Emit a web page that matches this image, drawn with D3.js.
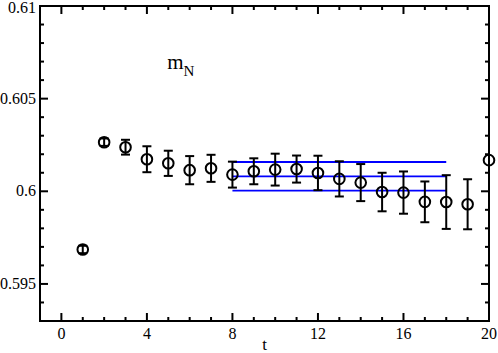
<!DOCTYPE html>
<html><head><meta charset="utf-8">
<script src="https://cdn.jsdelivr.net/npm/d3@7"></script>
<style>body{margin:0;background:#fff}</style>
</head><body>
<script>
const tValues = [1,2,3,4,5,6,7,8,9,10,11,12,13,14,15,16,17,18,19,20];
const mValues = [0.59686,0.60265,0.60238,0.60173,0.60151,0.60114,0.60124,0.6009,0.60108,0.60117,0.6012,0.60099,0.60067,0.60047,0.59996,0.59993,0.59943,0.59942,0.5993,0.60168];
const mErrors = [0.0002,0.0002,0.0004,0.0007,0.00068,0.00076,0.00073,0.0007,0.0007,0.00086,0.00073,0.00093,0.00095,0.001,0.00104,0.00114,0.0011,0.00145,0.00135,0.0];
const fitRange = [8,18];
const fitValue = 0.60081;
const fitError = 0.00077;
const xTicks = [0,4,8,12,16,20];
const yTicks = [0.595,0.6,0.605,0.61];
const yTickLabels = ["0.595","0.6","0.605","0.61"];

const W=498,H=353;
const m={l:40,r:9,t:6,b:32};
const svg=d3.select("body").append("svg").attr("width",W).attr("height",H);
const x=d3.scaleLinear().domain([-1,20]).range([m.l,W-m.r]);
const y=d3.scaleLinear().domain([0.593,0.61]).range([H-m.b,m.t]);
const font="'Liberation Serif','Times New Roman',serif";

const g=svg.append("g").attr("stroke","#000").attr("stroke-width",2);
const xMinor=d3.range(0,21,1), yMinor=d3.range(0.594,0.6095,0.001);
xMinor.forEach(v=>{
  const major=v%4===0, L=major?8:4;
  g.append("line").attr("x1",x(v)).attr("x2",x(v)).attr("y1",H-m.b).attr("y2",H-m.b-L);
  g.append("line").attr("x1",x(v)).attr("x2",x(v)).attr("y1",m.t).attr("y2",m.t+L);
});
yMinor.forEach(v=>{
  const major=Math.abs(Math.round(v*1000)%5)===0, L=major?8:4;
  g.append("line").attr("y1",y(v)).attr("y2",y(v)).attr("x1",m.l).attr("x2",m.l+L);
  g.append("line").attr("y1",y(v)).attr("y2",y(v)).attr("x1",W-m.r).attr("x2",W-m.r-L);
});
svg.append("rect").attr("x",m.l).attr("y",m.t).attr("width",W-m.l-m.r).attr("height",H-m.t-m.b)
  .attr("fill","none").attr("stroke","#000").attr("stroke-width",2);

xTicks.forEach(v=>svg.append("text").attr("x",x(v)).attr("y",H-m.b+18).attr("text-anchor","middle")
  .attr("font-family",font).attr("font-size",16).text(v));
yTicks.forEach((v,i)=>svg.append("text").attr("x",m.l-4).attr("y",Math.max(y(v)+5,13)).attr("text-anchor","end")
  .attr("font-family",font).attr("font-size",16).text(yTickLabels[i]));
svg.append("text").attr("x",x(9.5)).attr("y",H-3).attr("text-anchor","middle")
  .attr("font-family",font).attr("font-size",17).text("t");
const lab=svg.append("text").attr("x",x(4.95)).attr("y",y(0.6066)).attr("font-family",font).attr("font-size",21);
lab.append("tspan").text("m");
lab.append("tspan").attr("dy",7).attr("font-size",15).text("N");

const fg=svg.append("g").attr("stroke","#0000ff").attr("stroke-width",1.8);
[fitValue+fitError,fitValue,fitValue-fitError].forEach(v=>
  fg.append("line").attr("x1",x(fitRange[0])).attr("x2",x(fitRange[1])).attr("y1",y(v)).attr("y2",y(v)));

const dg=svg.append("g").attr("stroke","#000").attr("stroke-width",2).attr("fill","none");
tValues.forEach((t,i)=>{
  const cx=x(t),v=mValues[i],e=mErrors[i];
  if(e>0){
    dg.append("line").attr("x1",cx).attr("x2",cx).attr("y1",y(v-e)).attr("y2",y(v+e));
    dg.append("line").attr("x1",cx-4.5).attr("x2",cx+4.5).attr("y1",y(v-e)).attr("y2",y(v-e));
    dg.append("line").attr("x1",cx-4.5).attr("x2",cx+4.5).attr("y1",y(v+e)).attr("y2",y(v+e));
  }
  dg.append("circle").attr("cx",cx).attr("cy",y(v)).attr("r",5.3);
});
</script>
</body></html>
